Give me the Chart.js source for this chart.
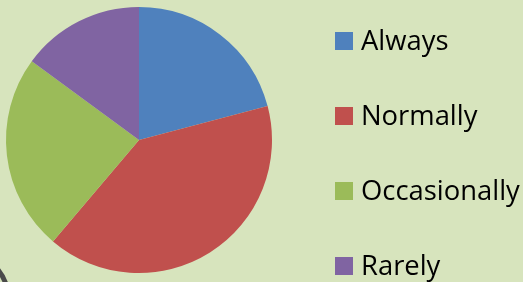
<!DOCTYPE html>
<html><head><meta charset="utf-8">
<script src="https://cdn.jsdelivr.net/npm/chart.js@4/dist/chart.umd.min.js"></script>
<style>
html,body{margin:0;padding:0;background:#d7e4bd;overflow:hidden;width:523px;height:282px}
#wrap{position:relative;width:523px;height:282px;overflow:hidden}
#c{position:absolute;left:0;top:0}
#legend{position:absolute;left:0;top:0;width:523px;height:282px;font-family:"Open Sans",sans-serif;font-size:27.4px;line-height:27.4px;color:#000}
.item{position:absolute;white-space:nowrap}
.box{position:absolute;width:18px;height:18px}
#corner{position:absolute;left:-91px;top:249px;width:102px;height:102px;box-sizing:border-box;border:5px solid #4a4a4a;border-radius:50%}
</style>
</head><body>
<div id="wrap">
  <canvas id="c" width="523" height="282"></canvas>
  <div id="legend"></div>
  <div id="corner"></div>
</div>
<script>
const categories = ['Always', 'Normally', 'Occasionally', 'Rarely'];
const values = [14, 27, 16, 10];
const colors = ['#4f81bd', '#c0504d', '#9bbb59', '#8064a2'];

new Chart(document.getElementById('c'), {
  type: 'pie',
  data: {
    labels: categories,
    datasets: [{
      data: values,
      backgroundColor: colors,
      borderWidth: 0,
      hoverOffset: 0
    }]
  },
  options: {
    responsive: false,
    animation: false,
    layout: { padding: { left: 6, right: 251, top: 7, bottom: 9 } },
    plugins: {
      legend: { display: false },
      tooltip: { enabled: false }
    }
  }
});

// legend built from the same arrays
const legend = document.getElementById('legend');
categories.forEach((label, i) => {
  const box = document.createElement('div');
  box.className = 'box';
  box.style.left = '335px';
  box.style.top = (32 + i * 75) + 'px';
  box.style.background = colors[i];
  legend.appendChild(box);
  const t = document.createElement('div');
  t.className = 'item';
  t.style.left = '361px';
  t.style.top = (25.7 + i * 75) + 'px';
  t.textContent = label;
  legend.appendChild(t);
});
</script></body></html>
